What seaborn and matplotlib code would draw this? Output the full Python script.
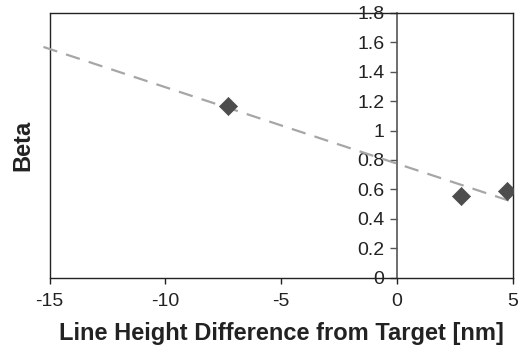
import numpy as np
import pandas as pd
import seaborn as sns
import matplotlib
matplotlib.use("Agg")
import matplotlib.pyplot as plt
from matplotlib.lines import Line2D

# Measured beta versus line height offset
height_diff = [-7.3, 2.75, 4.75]
beta = [1.167, 0.556, 0.59]

# Range over which the linear trend is drawn (forecast past the data)
trend_range = [-15.26, 5.2]

x_ticks = [-15, -10, -5, 0, 5]
y_ticks = [0, 0.2, 0.4, 0.6, 0.8, 1.0, 1.2, 1.4, 1.6, 1.8]
y_tick_labels = ["0", "0.2", "0.4", "0.6", "0.8", "1", "1.2", "1.4", "1.6", "1.8"]

sns.set_theme(style="white")
plt.rcParams["font.family"] = ["Liberation Sans", "DejaVu Sans"]

df = pd.DataFrame({"diff": height_diff, "beta": beta})

slope, intercept = np.polyfit(df["diff"], df["beta"], 1)
trend = pd.DataFrame({"diff": trend_range})
trend["beta"] = intercept + slope * trend["diff"]

fig = plt.figure(figsize=(5.24, 3.46), dpi=100)
ax = fig.add_axes([49.5 / 524, 1 - 277.5 / 346, (513 - 49.5) / 524, (277.5 - 13) / 346])

sns.lineplot(data=trend, x="diff", y="beta", ax=ax, color="#a6a6a6",
             linewidth=1.6, zorder=2)
for ln in ax.lines:
    ln.set_dashes((6.5, 4.2))
    ln.set_clip_on(False)

sns.scatterplot(data=df, x="diff", y="beta", ax=ax, marker="D", s=85,
                color="#4d4d4d", edgecolor="#4d4d4d", linewidth=0.5, zorder=3)

ax.set_xlim(-15, 5)
ax.set_ylim(0, 1.8)
ax.set_xticks(x_ticks)
ax.set_xticklabels([str(t) for t in x_ticks])
ax.set_yticks(y_ticks)
ax.set_yticklabels(y_tick_labels)

# Value axis crosses at x = 0
ax.spines["left"].set_position(("data", 0))
ax.spines["left"].set_color("#555555")
ax.spines["left"].set_linewidth(1.2)
for side in ["top", "right", "bottom"]:
    ax.spines[side].set_visible(True)
    ax.spines[side].set_color("#222222")
    ax.spines[side].set_linewidth(1.0)

# Outer frame on the left edge of the plot area
ax.add_line(Line2D([0, 0], [0, 1], transform=ax.transAxes, color="#222222",
                   linewidth=1.0, clip_on=False, zorder=1))

ax.tick_params(axis="y", which="major", direction="out", length=5, width=1,
               color="#555555", labelsize=14, labelcolor="#222222", pad=4,
               left=True)
ax.tick_params(axis="x", which="major", direction="out", length=4.5, width=1,
               color="#222222", labelsize=14, labelcolor="#222222", pad=7,
               bottom=True)

ax.set_xlabel("Line Height Difference from Target [nm]", fontsize=17,
              fontweight="bold", color="#222222", labelpad=8)
ax.set_ylabel("")
fig.text(23 / 524, 1 - 145 / 346, "Beta", rotation=90, fontsize=17,
         fontweight="bold", color="#222222", ha="center", va="center")

fig.savefig("out.png", dpi=100)
